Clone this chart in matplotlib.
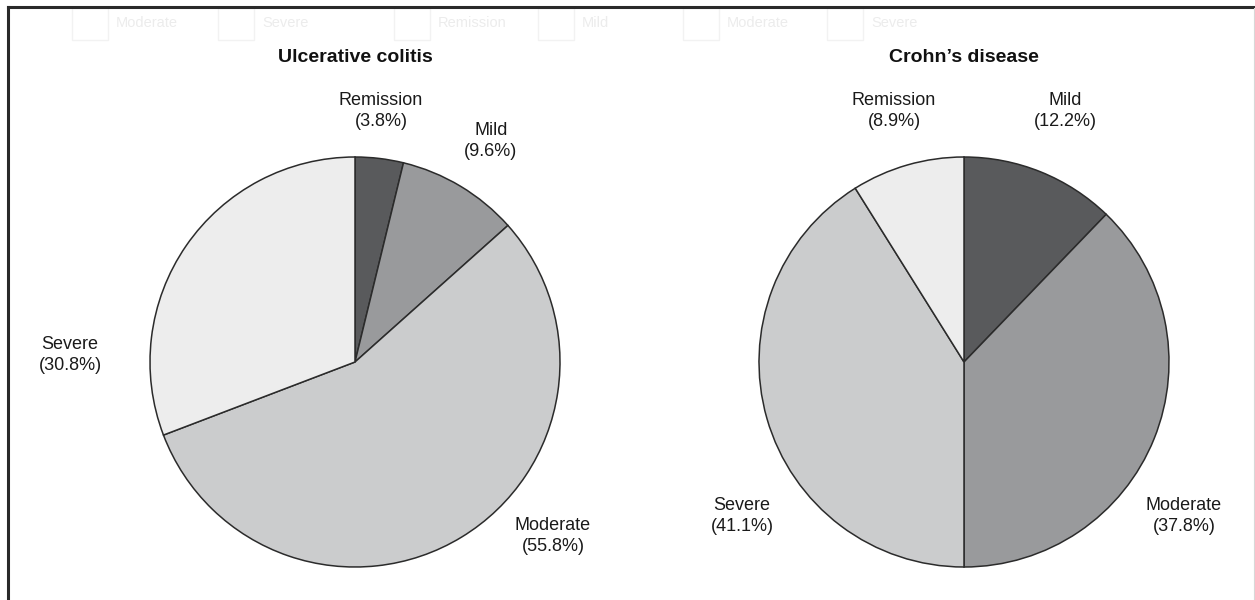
import matplotlib
matplotlib.use("Agg")
import matplotlib.pyplot as plt
from matplotlib.lines import Line2D
from matplotlib.patches import Rectangle

plt.rcParams['font.family'] = ['Liberation Sans', 'DejaVu Sans']

# Disease-severity shares (%) per condition, in clockwise order from 12 o'clock
uc_title = "Ulcerative colitis"
uc_categories = ["Remission", "Mild", "Moderate", "Severe"]
uc_values = [3.8, 9.6, 55.8, 30.8]

cd_title = "Crohn\u2019s disease"
cd_categories = ["Mild", "Moderate", "Severe", "Remission"]
cd_values = [12.2, 37.8, 41.1, 8.9]

# Faded legend row along the top edge
legend_labels = ["Moderate", "Severe", "Remission", "Mild", "Moderate", "Severe"]

W, H = 1255, 600
fig = plt.figure(figsize=(W / 100, H / 100), dpi=100)
fig.patch.set_facecolor("white")

RADIUS_PX = 205
HALF_PX = 215

colors_uc = ["#595a5c", "#999a9c", "#cbcccd", "#ededed"]
colors_cd = ["#595a5c", "#999a9c", "#cbcccd", "#ededed"]

# label offsets relative to the pie centre, in units of radius
uc_label_pos = [(0.127, 1.224), (0.663, 1.078), (0.966, -0.849), (-1.39, 0.034)]
cd_label_pos = [(0.493, 1.224), (1.073, -0.751), (-1.083, -0.751), (-0.341, 1.224)]


def draw_pie(cx, cy, title, cats, vals, colors, label_pos):
    ax = fig.add_axes([(cx - HALF_PX) / W, (H - cy - HALF_PX) / H,
                       2 * HALF_PX / W, 2 * HALF_PX / H])
    lim = HALF_PX / RADIUS_PX
    ax.pie(vals, colors=colors, startangle=90, counterclock=False,
           radius=1.0, wedgeprops=dict(edgecolor="#2b2b2b", linewidth=1.1))
    ax.set_xlim(-lim, lim)
    ax.set_ylim(-lim, lim)
    ax.set_aspect("equal")
    ax.axis("off")
    for cat, val, (lx, ly) in zip(cats, vals, label_pos):
        ax.text(lx, ly, f"{cat}\n({val}%)", ha="center", va="center",
                fontsize=13, color="#1a1a1a", linespacing=1.25, clip_on=False)
    fig.text(cx / W, 1 - 57 / H, title, ha="center", va="center",
             fontsize=14, fontweight="bold", color="#111111")


draw_pie(355, 362, uc_title, uc_categories, uc_values, colors_uc, uc_label_pos)
draw_pie(964, 362, cd_title, cd_categories, cd_values, colors_cd, cd_label_pos)

# faded legend entries
box_x = [72, 218, 394, 538, 683, 827]
for bx, lab in zip(box_x, legend_labels):
    fig.patches.append(Rectangle((bx / W, 1 - 40 / H), 36 / W, 32 / H,
                                 transform=fig.transFigure, fill=False,
                                 edgecolor="#f2f2f2", linewidth=1.0))
    fig.text((bx + 44) / W, 1 - 23 / H, lab, ha="left", va="center",
             fontsize=10.5, color="#ececec")

# frame lines
fig.lines.append(Line2D([8 / W, 1], [1 - 7 / H, 1 - 7 / H],
                        transform=fig.transFigure, color="#2a2a2a", linewidth=2.2))
fig.lines.append(Line2D([8 / W, 8 / W], [0, 1 - 7 / H],
                        transform=fig.transFigure, color="#2a2a2a", linewidth=2.2))
fig.lines.append(Line2D([1253.5 / W, 1253.5 / W], [0, 1 - 8 / H],
                        transform=fig.transFigure, color="#d8d8d8", linewidth=0.8))

fig.savefig("out.png", dpi=100, facecolor="white")
